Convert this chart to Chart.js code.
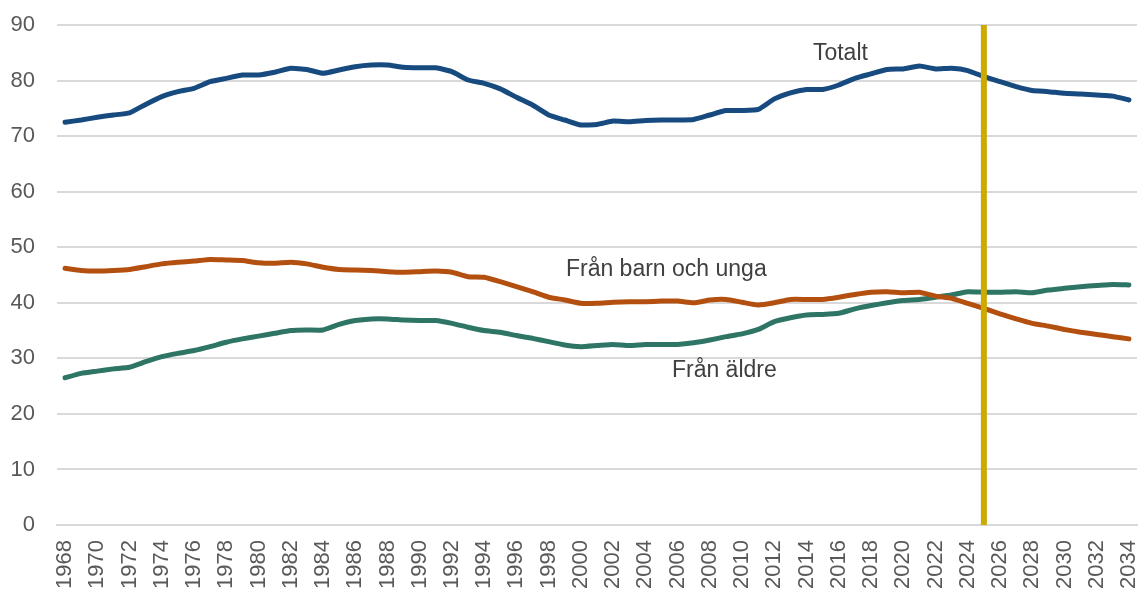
<!DOCTYPE html>
<html lang="sv">
<head>
<meta charset="utf-8">
<title>Försörjningskvot</title>
<script src="https://cdn.jsdelivr.net/npm/chart.js@4/dist/chart.umd.min.js"></script>
<style>
  html, body { margin: 0; padding: 0; background: #ffffff; }
  #wrap { width: 1142px; height: 592px; position: relative; }
</style>
</head>
<body>
<div id="wrap"><canvas id="chart"></canvas></div>
<script>
// Years on the x axis
const years = [
  '1968','1969','1970','1971','1972','1973','1974','1975','1976','1977',
  '1978','1979','1980','1981','1982','1983','1984','1985','1986','1987',
  '1988','1989','1990','1991','1992','1993','1994','1995','1996','1997',
  '1998','1999','2000','2001','2002','2003','2004','2005','2006','2007',
  '2008','2009','2010','2011','2012','2013','2014','2015','2016','2017',
  '2018','2019','2020','2021','2022','2023','2024','2025','2026','2027',
  '2028','2029','2030','2031','2032','2033','2034'
];

const totalt = [
  72.5, 72.9, 73.4, 73.8, 74.2, 75.7, 77.1, 78.0, 78.6, 79.8,
  80.4, 81.0, 81.0, 81.5, 82.2, 82.0, 81.3, 81.9, 82.5, 82.8,
  82.8, 82.4, 82.3, 82.3, 81.6, 80.1, 79.5, 78.5, 77.0, 75.6,
  73.8, 72.9, 72.0, 72.1, 72.7, 72.6, 72.8, 72.9, 72.9, 73.0,
  73.8, 74.6, 74.6, 74.8, 76.7, 77.8, 78.4, 78.4, 79.2, 80.4,
  81.2, 82.0, 82.1, 82.6, 82.1, 82.2, 81.8, 80.7, 79.8, 78.9,
  78.2, 78.0, 77.7, 77.6, 77.4, 77.2, 76.5
];

const franBarnOchUnga = [
  46.2, 45.8, 45.7, 45.8, 46.0, 46.5, 47.0, 47.3, 47.5, 47.8,
  47.7, 47.6, 47.2, 47.1, 47.3, 47.0, 46.4, 46.0, 45.9, 45.8,
  45.6, 45.5, 45.6, 45.7, 45.5, 44.7, 44.6, 43.8, 42.9, 42.0,
  41.0, 40.5, 39.9, 39.9, 40.1, 40.2, 40.2, 40.3, 40.3, 40.0,
  40.5, 40.6, 40.1, 39.6, 40.0, 40.6, 40.6, 40.6, 41.0, 41.5,
  41.9, 42.0, 41.8, 41.9, 41.2, 40.8, 39.9, 39.0, 38.0, 37.1,
  36.3, 35.8, 35.2, 34.7, 34.3, 33.9, 33.5
];

const franAldre = [
  26.5, 27.3, 27.7, 28.1, 28.4, 29.4, 30.3, 30.9, 31.4, 32.1,
  32.9, 33.5, 34.0, 34.5, 35.0, 35.1, 35.1, 36.1, 36.8, 37.1,
  37.1, 36.9, 36.8, 36.8, 36.3, 35.6, 35.0, 34.7, 34.1, 33.6,
  33.0, 32.4, 32.1, 32.3, 32.5, 32.3, 32.5, 32.5, 32.5, 32.8,
  33.3, 33.9, 34.4, 35.2, 36.6, 37.3, 37.8, 37.9, 38.1, 38.9,
  39.5, 40.0, 40.4, 40.6, 41.0, 41.4, 42.0, 41.9, 41.9, 42.0,
  41.8, 42.3, 42.6, 42.9, 43.1, 43.3, 43.2
];

const seriesNames = ['Totalt', 'Från barn och unga', 'Från äldre'];
const prognosYear = '2025';

const FONT = "'Liberation Sans', Arial, sans-serif";

// vertical marker for the forecast start + series labels in the plot
const markerPlugin = {
  id: 'marker',
  afterDatasetsDraw(chart) {
    const { ctx, chartArea, scales } = chart;
    const x = scales.x.getPixelForValue(years.indexOf(prognosYear));
    ctx.save();
    ctx.strokeStyle = '#CCAA00';
    ctx.lineWidth = 6;
    ctx.beginPath();
    ctx.moveTo(x, chartArea.top);
    ctx.lineTo(x, chartArea.bottom);
    ctx.stroke();
    ctx.restore();
  },
  afterDraw(chart) {
    const { ctx, scales } = chart;
    const spots = [
      { text: seriesNames[0], year: 2016.1, value: 84.8 },
      { text: seriesNames[1], year: 2005.3, value: 45.9 },
      { text: seriesNames[2], year: 2008.9, value: 27.7 }
    ];
    ctx.save();
    ctx.fillStyle = '#404040';
    ctx.font = '23px ' + FONT;
    ctx.textAlign = 'center';
    ctx.textBaseline = 'middle';
    spots.forEach(s => {
      const x = scales.x.getPixelForValue(s.year - 1968);
      const y = scales.y.getPixelForValue(s.value);
      ctx.fillText(s.text, x, y);
    });
    ctx.restore();
  }
};

const lineStyle = {
  borderWidth: 5,
  pointRadius: 0,
  tension: 0.15,
  borderCapStyle: 'round',
  borderJoinStyle: 'round',
  fill: false
};

new Chart(document.getElementById('chart'), {
  type: 'line',
  data: {
    labels: years,
    datasets: [
      { label: seriesNames[0], data: totalt, borderColor: '#174A7E', ...lineStyle },
      { label: seriesNames[1], data: franBarnOchUnga, borderColor: '#B4500F', ...lineStyle },
      { label: seriesNames[2], data: franAldre, borderColor: '#2E7566', ...lineStyle }
    ]
  },
  options: {
    responsive: true,
    maintainAspectRatio: false,
    animation: false,
    layout: { padding: { left: 10, right: 5, top: 25, bottom: 0 } },
    plugins: {
      legend: { display: false },
      tooltip: { enabled: false }
    },
    scales: {
      x: {
        offset: true,
        grid: { display: false, drawTicks: false },
        border: { display: true, color: '#D9D9D9', width: 2 },
        ticks: {
          autoSkip: false,
          minRotation: 90,
          maxRotation: 90,
          padding: 15,
          color: '#595959',
          font: { family: FONT, size: 22 },
          callback: (val, i) => (i % 2 === 0 ? years[i] : '')
        },
        afterFit(scale) {
          // keep the plot area fixed like the reference
          scale.height = 67;
          scale.paddingLeft = 0;
          scale.paddingRight = 0;
        }
      },
      y: {
        min: 0,
        max: 90,
        grid: { color: '#D9D9D9', lineWidth: 2, drawTicks: false },
        border: { display: false },
        ticks: {
          stepSize: 10,
          padding: 22,
          color: '#595959',
          font: { family: FONT, size: 22 }
        },
        afterFit(scale) {
          scale.width = 47;
          scale.paddingTop = 0;
          scale.paddingBottom = 0;
        }
      }
    }
  },
  plugins: [markerPlugin]
});
</script>
</body>
</html>
